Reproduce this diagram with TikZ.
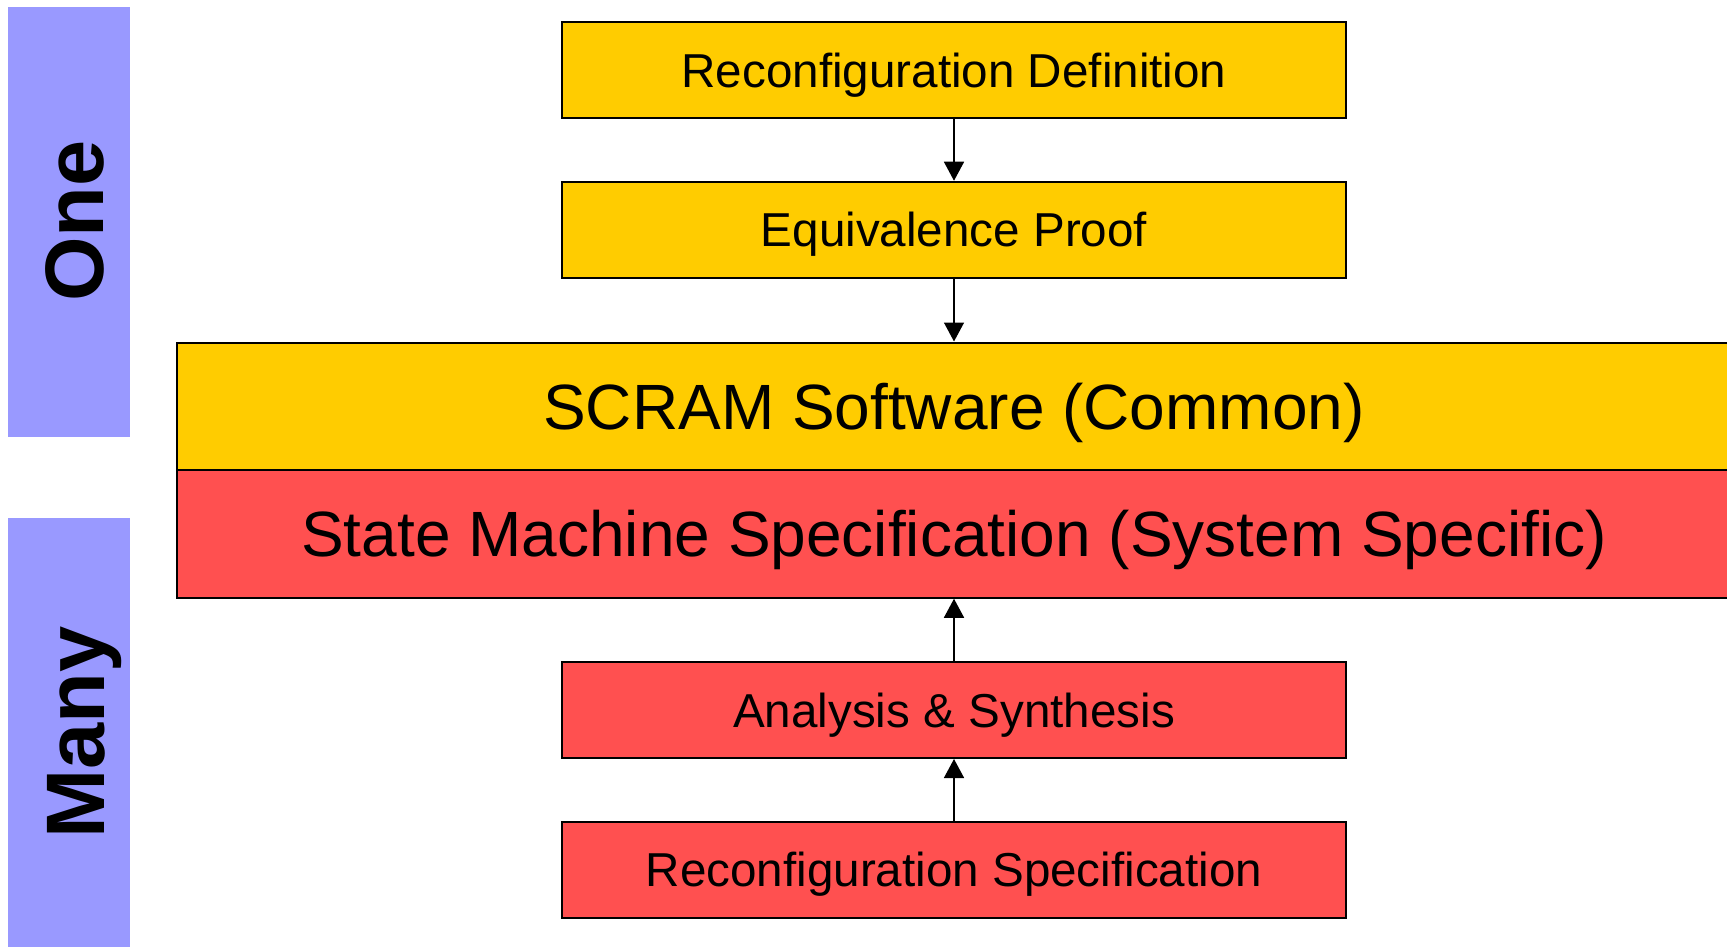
\documentclass[tikz,border=0pt]{standalone}
\usepackage{fontspec}
\setmainfont{Liberation Sans}
\usetikzlibrary{arrows.meta}
\definecolor{ylw}{HTML}{FFCC00}
\definecolor{rd}{HTML}{FF5050}
\definecolor{blu}{HTML}{9999FF}
\begin{document}
\begin{tikzpicture}[x=1pt,y=-1pt,
  smallbox/.style={draw=black,line width=2pt,minimum width=784pt,minimum height=96pt,inner sep=0pt,
     text height=34.1pt,text depth=0pt,font=\fontsize{47.6}{50}\selectfont},
  bigbox/.style={draw=black,line width=2pt,minimum width=1554pt,minimum height=127.5pt,inner sep=0pt,
     text height=45.8pt,text depth=0pt,font=\fontsize{64}{66}\selectfont},
  sidelabel/.style={rotate=90,anchor=base,inner sep=0pt,font=\bfseries\fontsize{83}{85}\selectfont},
  arr/.style={line width=1.5pt,-{Triangle[width=20pt,length=19pt]}}]
\useasboundingbox (0,0) rectangle (1727,947);
\fill[blu] (7.7,6.6) rectangle (130,437);
\fill[blu] (7.7,517.6) rectangle (130,950);
\node[sidelabel] (one) at (103.5,221) {One};
\node[sidelabel] (many) at (104,732.5) {Many};
\node[smallbox,fill=ylw] (b1) at (954,70) {Reconfiguration Definition};
\node[smallbox,fill=ylw] (b2) at (954,229.75) {Equivalence Proof};
\node[bigbox,fill=ylw] (scram) at (954,406.25) {SCRAM Software (Common)};
\node[bigbox,fill=rd] (sm) at (954,534) {State Machine Specification (System Specific)};
\node[smallbox,fill=rd] (as) at (954,710) {Analysis \& Synthesis};
\node[smallbox,fill=rd] (rs) at (954,869.75) {Reconfiguration Specification};
\draw[arr] (b1.south) -- (b2.north);
\draw[arr] (b2.south) -- (scram.north);
\draw[arr] (as.north) -- (sm.south);
\draw[arr] (rs.north) -- (as.south);
\end{tikzpicture}
\end{document}
